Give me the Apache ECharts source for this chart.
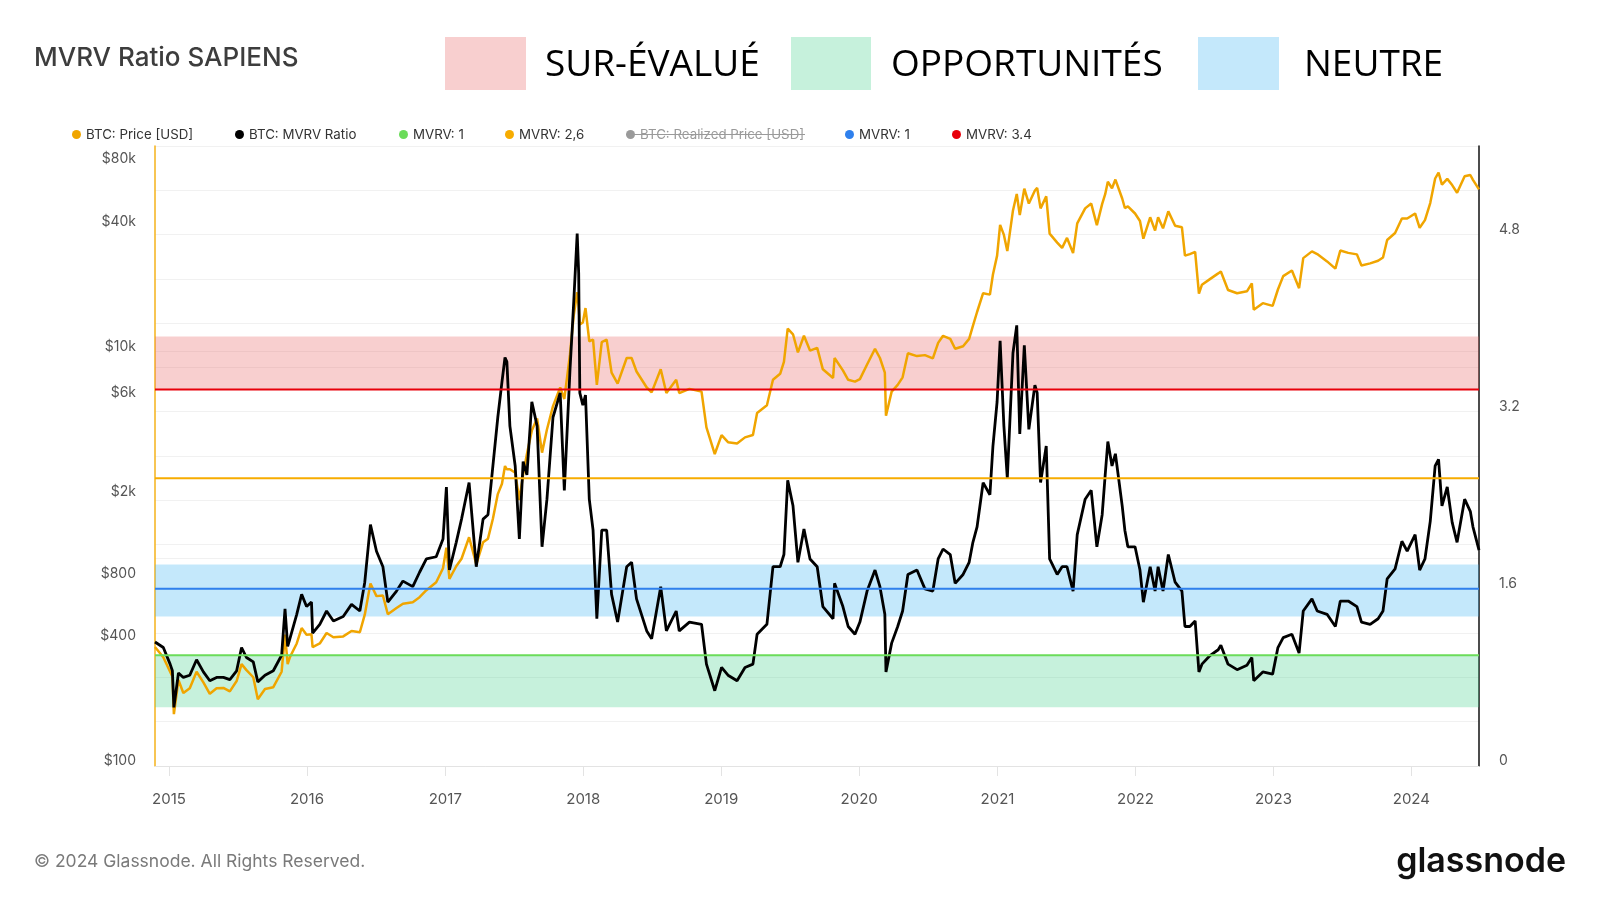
<!DOCTYPE html>
<html>
<head>
<meta charset="utf-8">
<script src="https://cdn.jsdelivr.net/npm/echarts@6/dist/echarts.min.js"></script>
<style>
html,body{margin:0;padding:0;background:#fff;}
#chart{width:1600px;height:900px;}
</style>
</head>
<body>
<div id="chart"></div>
<script>
// ---- data ----
const dates = [
'2014-11-25','2014-11-30','2014-12-17','2015-01-04','2015-01-10','2015-01-14','2015-01-26','2015-02-08','2015-02-25','2015-03-15',
'2015-04-02','2015-04-19','2015-05-07','2015-05-25','2015-06-11','2015-06-29','2015-07-12','2015-07-25','2015-08-12','2015-08-24',
'2015-09-12','2015-10-04','2015-10-26','2015-11-04','2015-11-11','2015-11-17','2015-12-05','2015-12-18','2015-12-31','2016-01-13',
'2016-01-16','2016-02-04','2016-02-22','2016-03-11','2016-04-06','2016-04-28','2016-05-20','2016-06-02','2016-06-17','2016-07-03',
'2016-07-20','2016-08-02','2016-08-25','2016-09-11','2016-10-07','2016-10-25','2016-11-12','2016-12-08','2016-12-26','2017-01-04',
'2017-01-12','2017-01-30','2017-02-13','2017-03-05','2017-03-24','2017-04-11','2017-04-24','2017-05-07','2017-05-20','2017-05-31',
'2017-06-08','2017-06-13','2017-06-21','2017-07-05','2017-07-16','2017-07-26','2017-08-05','2017-08-18','2017-09-01','2017-09-14',
'2017-09-27','2017-10-13','2017-11-01','2017-11-12','2017-11-27','2017-12-07','2017-12-16','2017-12-20','2017-12-23','2017-12-31',
'2018-01-07','2018-01-17','2018-01-27','2018-02-06','2018-02-19','2018-03-04','2018-03-17','2018-04-02','2018-04-26','2018-05-09',
'2018-05-22','2018-06-18','2018-07-01','2018-07-25','2018-08-09','2018-09-04','2018-09-12','2018-10-09','2018-11-10','2018-11-23',
'2018-12-15','2019-01-02','2019-01-19','2019-02-12','2019-03-05','2019-03-26','2019-04-06','2019-05-02','2019-05-18','2019-06-06',
'2019-06-16','2019-06-26','2019-07-10','2019-07-23','2019-08-08','2019-08-24','2019-09-12','2019-09-27','2019-10-24','2019-10-28',
'2019-11-19','2019-12-03','2019-12-21','2020-01-03','2020-01-22','2020-02-12','2020-02-25','2020-03-09','2020-03-12','2020-03-27',
'2020-04-12','2020-04-25','2020-05-09','2020-06-02','2020-06-23','2020-07-14','2020-07-28','2020-08-10','2020-08-29','2020-09-11',
'2020-10-02','2020-10-18','2020-10-28','2020-11-08','2020-11-24','2020-12-12','2020-12-20','2020-12-31','2021-01-08','2021-01-18',
'2021-01-27','2021-02-11','2021-02-21','2021-03-01','2021-03-13','2021-03-25','2021-04-10','2021-04-16','2021-04-25','2021-05-10',
'2021-05-19','2021-06-08','2021-06-21','2021-07-04','2021-07-20','2021-07-31','2021-08-21','2021-09-06','2021-09-21','2021-10-05',
'2021-10-13','2021-10-20','2021-10-31','2021-11-09','2021-11-27','2021-12-04','2021-12-12','2021-12-31','2022-01-13','2022-01-22',
'2022-02-09','2022-02-22','2022-03-02','2022-03-15','2022-03-29','2022-04-16','2022-05-04','2022-05-12','2022-05-25','2022-06-08',
'2022-06-18','2022-06-26','2022-07-18','2022-08-08','2022-08-15','2022-09-03','2022-09-27','2022-10-23','2022-11-05','2022-11-10',
'2022-12-04','2022-12-30','2023-01-13','2023-01-27','2023-02-19','2023-03-10','2023-03-21','2023-04-13','2023-04-27','2023-05-23',
'2023-06-14','2023-06-27','2023-07-18','2023-08-10','2023-08-22','2023-09-14','2023-10-05','2023-10-18','2023-10-29','2023-11-19',
'2023-12-07','2023-12-21','2024-01-11','2024-01-23','2024-02-06','2024-02-20','2024-03-04','2024-03-13','2024-03-22','2024-04-05',
'2024-04-18','2024-05-01','2024-05-21','2024-06-05','2024-06-12','2024-06-28'
];
const btcPrice = [
375,378,335,285,270,178,260,225,237,285,
253,223,237,238,229,257,310,290,268,210,
235,240,285,430,310,335,390,463,430,432,
375,390,438,418,422,448,442,537,760,660,
665,540,578,607,617,652,705,770,900,1130,
800,920,1000,1270,940,1200,1250,1560,2050,2300,
2800,2700,2700,2600,1920,2550,3200,4150,4750,3250,
4200,5450,6700,5900,9700,15000,19300,16500,13500,13800,
16200,11200,11400,6900,11100,11400,7900,7000,9300,9300,
8000,6700,6350,8200,6300,7300,6300,6600,6400,4300,
3200,3950,3650,3600,3850,3950,5050,5500,7300,7800,
8900,12900,12100,9900,11900,10100,10400,8200,7450,9300,
8100,7300,7150,7350,8650,10300,9300,7900,4900,6400,
6900,7500,9800,9500,9600,9250,11000,11900,11500,10300,
10600,11500,13300,15500,19100,18800,23500,29000,40800,36500,
30500,47900,57500,45500,61000,51700,59800,61500,49000,56000,
37000,33500,31600,35300,29800,41500,49000,51700,40700,51500,
57400,65900,61300,67500,54700,49200,50100,46300,42600,35000,
44400,38300,44400,39300,47400,40400,39700,29000,29500,30200,
19000,21000,22400,23800,24300,19800,19100,19500,21300,15900,
17100,16600,19900,23100,24600,20200,28200,30400,29500,27200,
25100,30700,29900,29400,26000,26600,27400,28400,34500,37300,
43800,43800,46300,39500,43000,52000,68300,73000,63800,68000,
63500,58300,70000,71000,67300,60500
];
const mvrvRatio = [
1.12,1.13,1.07,0.92,0.86,0.53,0.84,0.80,0.82,0.96,
0.85,0.77,0.80,0.80,0.78,0.86,1.07,0.98,0.94,0.76,
0.82,0.86,1.00,1.42,1.08,1.15,1.37,1.55,1.44,1.48,
1.20,1.28,1.40,1.31,1.35,1.46,1.40,1.66,2.18,1.94,
1.80,1.48,1.58,1.67,1.62,1.75,1.87,1.89,2.05,2.52,
1.77,2.02,2.23,2.56,1.80,2.23,2.27,2.71,3.15,3.47,
3.69,3.65,3.07,2.71,2.05,2.75,2.63,3.29,3.07,1.98,
2.41,3.15,3.37,2.49,3.58,4.20,4.81,4.45,3.37,3.26,
3.35,2.41,2.13,1.33,2.13,2.13,1.55,1.30,1.80,1.84,
1.51,1.22,1.15,1.62,1.22,1.40,1.22,1.30,1.28,0.92,
0.68,0.89,0.82,0.77,0.89,0.92,1.19,1.28,1.80,1.80,
1.91,2.58,2.35,1.84,2.14,1.87,1.80,1.44,1.33,1.65,
1.44,1.26,1.19,1.30,1.58,1.77,1.62,1.37,0.85,1.11,
1.26,1.40,1.73,1.77,1.60,1.58,1.87,1.96,1.91,1.65,
1.73,1.84,2.02,2.16,2.56,2.45,2.89,3.29,3.84,3.07,
2.60,3.73,3.98,3.00,3.80,3.04,3.44,3.37,2.56,2.89,
1.87,1.73,1.80,1.80,1.58,2.09,2.41,2.49,1.98,2.27,
2.63,2.93,2.71,2.82,2.35,2.13,1.98,1.98,1.77,1.48,
1.80,1.58,1.80,1.58,1.91,1.66,1.58,1.26,1.26,1.31,
0.85,0.92,1.00,1.05,1.09,0.92,0.87,0.91,0.98,0.77,
0.85,0.83,1.07,1.16,1.19,1.02,1.40,1.51,1.40,1.37,
1.26,1.49,1.49,1.44,1.30,1.28,1.33,1.40,1.69,1.78,
2.03,1.94,2.09,1.77,1.87,2.21,2.71,2.77,2.35,2.52,
2.20,2.02,2.41,2.30,2.16,1.95
];
const timeRange = ['2014-11-25', '2024-06-28'];
const yearTicks = [2015,2016,2017,2018,2019,2020,2021,2022,2023,2024];
const priceTicks = [100, 400, 800, 2000, 6000, 10000, 40000, 80000];
const mvrvTicks = [0, 1.6, 3.2, 4.8];
const levelGreen = 1;      // "MVRV: 1" (green)
const levelOrange = 2.6;   // "MVRV: 2,6"
const levelBlue = 1.6;     // "MVRV: 1" (blue)
const levelRed = 3.4;      // "MVRV: 3.4"
const bandRed = [3.4, 3.88];
const bandBlue = [1.35, 1.82];
const bandGreen = [0.53, 1.0];

// ---- chart ----
const ts = s => { const p = s.split('-').map(Number); return Date.UTC(p[0], p[1] - 1, p[2]); };
const chart = echarts.init(document.getElementById('chart'), null, {renderer: 'canvas'});
const priceData = dates.map((d, i) => [ts(d), btcPrice[i]]);
const mvrvData = dates.map((d, i) => [ts(d), mvrvRatio[i]]);
const xMin = ts(timeRange[0]), xMax = ts(timeRange[1]);
const levelLine = v => [[xMin, v], [xMax, v]];
const yearValues = yearTicks.map(y => Date.UTC(y, 0, 1));
const FONT = 'Inter, Roboto, "Noto Sans", sans-serif';
const HEAD_FONT = '37px "Open Sans", "Noto Sans", sans-serif';

function levelSeries(name, value, color) {
  return {
    name: name, type: 'line', yAxisIndex: 1, data: levelLine(value),
    symbol: 'none', silent: true, z: 6,
    lineStyle: {color: color, width: 2}, itemStyle: {color: color}
  };
}

function legendAt(name, x) {
  return {
    data: [name], left: x, top: 128, icon: 'circle', itemWidth: 9, itemHeight: 9,
    itemGap: 0, padding: 0,
    formatter: n => n.trim(),
    textStyle: {fontSize: 13.3, color: '#333', fontFamily: FONT},
    inactiveColor: '#9a9a9a',
    selected: {'BTC: Realized Price [USD]': false}
  };
}

const option = {
  animation: false,
  backgroundColor: '#ffffff',
  grid: {left: 155, right: 121, top: 146, bottom: 134, containLabel: false},
  legend: [
    legendAt('BTC: Price [USD]', 72),
    legendAt('BTC: MVRV Ratio', 235),
    legendAt('MVRV: 1', 399),
    legendAt('MVRV: 2,6', 505),
    legendAt('BTC: Realized Price [USD]', 626),
    legendAt('MVRV: 1 ', 845),
    legendAt('MVRV: 3.4', 952)
  ],
  xAxis: {
    type: 'value', min: xMin, max: xMax, scale: true,
    axisLine: {show: true, lineStyle: {color: '#e3e3e3', width: 1}},
    axisTick: {show: true, length: 10, lineStyle: {color: '#e3e3e3'}, customValues: yearValues},
    axisLabel: {
      customValues: yearValues,
      formatter: v => String(new Date(v).getUTCFullYear()),
      color: '#555', fontSize: 15, fontFamily: FONT, margin: 26
    },
    splitLine: {show: false}
  },
  yAxis: [
    {
      type: 'log', logBase: 10, min: 100, max: 98000, position: 'left',
      axisLine: {show: true, lineStyle: {color: '#f5b21a', width: 1.5}},
      axisTick: {show: false},
      axisLabel: {
        customValues: priceTicks,
        formatter: v => '$' + (v >= 1000 ? (Math.round(v) / 1000) + 'k' : Math.round(v)),
        color: '#555', fontSize: 14, fontFamily: FONT, margin: 19,
        verticalAlign: 'bottom', lineHeight: 10
      },
      splitLine: {show: true, lineStyle: {color: '#f1f1f1', width: 1}}
    },
    {
      type: 'value', min: 0, max: 5.6, interval: 0.4, position: 'right',
      axisLine: {show: true, lineStyle: {color: '#111', width: 1.5}},
      axisTick: {show: false},
      axisLabel: {
        customValues: mvrvTicks,
        formatter: v => String(+(+v).toFixed(1)),
        color: '#555', fontSize: 14, fontFamily: FONT, margin: 20,
        verticalAlign: 'bottom', lineHeight: 10
      },
      splitLine: {show: true, lineStyle: {color: '#f1f1f1', width: 1}}
    }
  ],
  series: [
    {
      name: 'BTC: Price [USD]', type: 'line', yAxisIndex: 0, data: priceData,
      symbol: 'none', z: 2, silent: true,
      lineStyle: {color: '#f0a500', width: 2.5}, itemStyle: {color: '#f0a500'}
    },
    {
      name: 'BTC: MVRV Ratio', type: 'line', yAxisIndex: 1, data: mvrvData,
      symbol: 'none', z: 3, silent: true,
      lineStyle: {color: '#000000', width: 2.8}, itemStyle: {color: '#000000'}
    },
    {
      name: 'bands', type: 'line', yAxisIndex: 1, data: levelLine(levelGreen),
      symbol: 'none', z: 5, silent: true, lineStyle: {opacity: 0},
      markArea: {
        silent: true,
        data: [
          [{yAxis: bandRed[0], itemStyle: {color: 'rgba(232,95,95,0.3)'}}, {yAxis: bandRed[1]}],
          [{yAxis: bandBlue[0], itemStyle: {color: 'rgba(58,178,242,0.3)'}}, {yAxis: bandBlue[1]}],
          [{yAxis: bandGreen[0], itemStyle: {color: 'rgba(65,208,138,0.3)'}}, {yAxis: bandGreen[1]}]
        ]
      }
    },
    levelSeries('MVRV: 1', levelGreen, '#6bdc5a'),
    levelSeries('MVRV: 2,6', levelOrange, '#f7ac00'),
    {
      name: 'BTC: Realized Price [USD]', type: 'line', yAxisIndex: 0, data: [],
      symbol: 'none', lineStyle: {color: '#9a9a9a'}, itemStyle: {color: '#9a9a9a'}
    },
    levelSeries('MVRV: 1 ', levelBlue, '#2f80ed'),
    levelSeries('MVRV: 3.4', levelRed, '#e8000b')
  ],
  graphic: [
    {type: 'text', left: 34, top: 45, style: {text: 'MVRV Ratio SAPIENS', font: '500 26px ' + FONT, fill: '#3d3d3d'}},
    {type: 'rect', shape: {x: 445, y: 37, width: 81, height: 53}, style: {fill: '#f8cfcf'}},
    {type: 'text', left: 545, top: 47, style: {text: 'SUR-ÉVALUÉ', font: HEAD_FONT, fill: '#000'}},
    {type: 'rect', shape: {x: 791, y: 37, width: 80, height: 53}, style: {fill: '#c6f1dc'}},
    {type: 'text', left: 891, top: 47, style: {text: 'OPPORTUNITÉS', font: HEAD_FONT, fill: '#000'}},
    {type: 'rect', shape: {x: 1198, y: 37, width: 81, height: 53}, style: {fill: '#c4e8fb'}},
    {type: 'text', left: 1304, top: 47, style: {text: 'NEUTRE', font: HEAD_FONT, fill: '#000'}},
    {type: 'line', shape: {x1: 626, y1: 134.5, x2: 805, y2: 134.5}, style: {stroke: '#9a9a9a', lineWidth: 1}, z: 100},
    {type: 'text', left: 34, top: 853, style: {text: '© 2024 Glassnode. All Rights Reserved.', font: '17.5px ' + FONT, fill: '#7a7a7a'}},
    {type: 'text', right: 34, top: 845, style: {text: 'glassnode', font: '600 34px ' + FONT, fill: '#111'}}
  ]
};
chart.setOption(option);
</script>
</body>
</html>
